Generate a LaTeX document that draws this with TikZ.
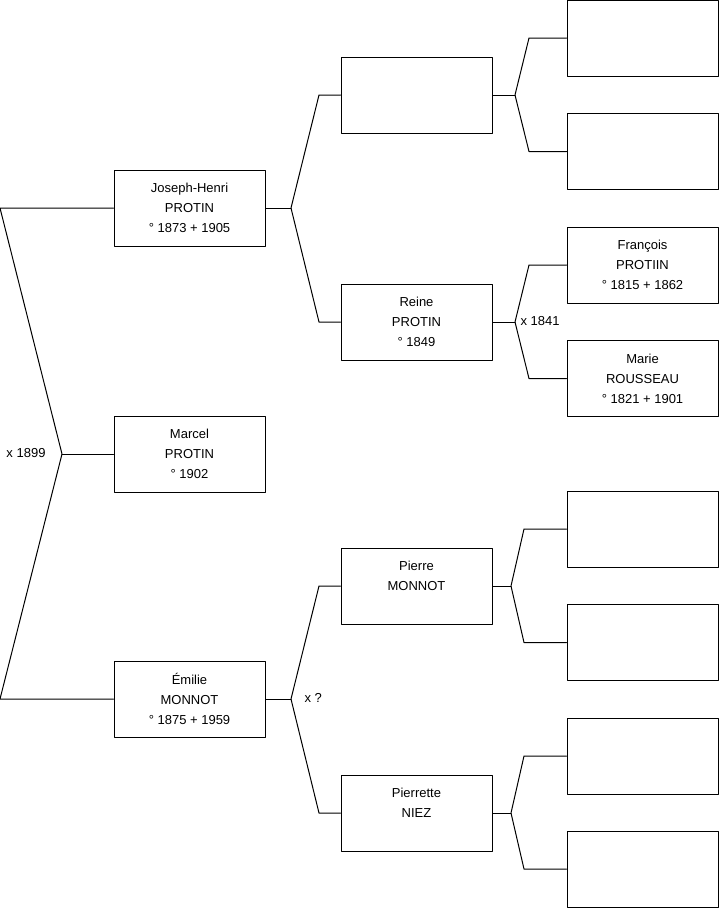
\documentclass[tikz,border=0pt]{standalone}
\usepackage{fontspec}
\setmainfont{Liberation Sans}
\usepackage{tikz}

\begin{document}
\begin{tikzpicture}[x=1pt, y=-1pt, line width=1pt, line cap=round, line join=round,
  box/.style={draw, minimum width=151pt, minimum height=76pt, inner sep=0pt, align=center,
              font=\fontsize{13}{20}\selectfont},
  lbl/.style={inner sep=0pt, font=\fontsize{13}{16}\selectfont}]

  %% ════ 第一代（本人 + 父母）════
  \node[box] (jh)  at (189.5,208) {Joseph-Henri\\PROTIN\\° 1873 + 1905};
  \node[box] (mar) at (189.5,454) {Marcel\\PROTIN\\° 1902};
  \node[box] (emi) at (189.5,699) {Émilie\\MONNOT\\° 1875 + 1959};

  %% ════ 第二代：祖父母 ════
  \node[box] (gp1) at (416.5, 95) {};
  \node[box] (rei) at (416.5,322) {Reine\\PROTIN\\° 1849};
  \node[box] (pie) at (416.5,586) {Pierre\\MONNOT\\\mbox{}};
  \node[box] (pit) at (416.5,813) {Pierrette\\NIEZ\\\mbox{}};

  %% ════ 第三代：曾祖父母（多数空着）════
  \node[box] (ggp1) at (642.5, 38)  {};
  \node[box] (ggp2) at (642.5,151.5) {};
  \node[box] (fra)  at (642.5,265) {François\\PROTIIN\\° 1815 + 1862};
  \node[box] (mai)  at (642.5,378.5) {Marie\\ROUSSEAU\\° 1821 + 1901};
  \node[box] (ggp5) at (642.5,529) {};
  \node[box] (ggp6) at (642.5,642.5) {};
  \node[box] (ggp7) at (642.5,756) {};
  \node[box] (ggp8) at (642.5,869) {};

  %% ════ 分叉点 ════
  \coordinate (m)   at (62,454);
  \coordinate (mt)  at (0,208);
  \coordinate (mb)  at (0,699);
  \coordinate (f1)  at (291,208);
  \coordinate (f1t) at (319,95);
  \coordinate (f1b) at (319,322);
  \coordinate (f2)  at (291,699);
  \coordinate (f2t) at (319,586);
  \coordinate (f2b) at (319,813);
  \coordinate (fa)  at (515,95);
  \coordinate (fat) at (529,38);
  \coordinate (fab) at (529,151.5);
  \coordinate (fr)  at (515,322);
  \coordinate (frt) at (529,265);
  \coordinate (frb) at (529,378.5);
  \coordinate (fp)  at (511,586);
  \coordinate (fpt) at (524,529);
  \coordinate (fpb) at (524,642.5);
  \coordinate (fq)  at (511,813);
  \coordinate (fqt) at (524,756);
  \coordinate (fqb) at (524,869);

  %% ════ 连线 ════
  \draw (jh.west) -- (mt) -- (m) -- (mb) -- (emi.west);
  \draw (m) -- (mar.west);
  \draw (jh.east) -- (f1);
  \draw (gp1.west) -- (f1t) -- (f1) -- (f1b) -- (rei.west);
  \draw (emi.east) -- (f2);
  \draw (pie.west) -- (f2t) -- (f2) -- (f2b) -- (pit.west);
  \draw (gp1.east) -- (fa);
  \draw (ggp1.west) -- (fat) -- (fa) -- (fab) -- (ggp2.west);
  \draw (rei.east) -- (fr);
  \draw (fra.west) -- (frt) -- (fr) -- (frb) -- (mai.west);
  \draw (pie.east) -- (fp);
  \draw (ggp5.west) -- (fpt) -- (fp) -- (fpb) -- (ggp6.west);
  \draw (pit.east) -- (fq);
  \draw (ggp7.west) -- (fqt) -- (fq) -- (fqb) -- (ggp8.west);

  %% ════ 婚姻标注 ════
  \node[lbl, anchor=east] (x1) at (46,453) {x 1899};
  \node[lbl, anchor=west] (x2) at (520,321) {x 1841};
  \node[lbl, anchor=west] (x3) at (304,698) {x ?};

  % 钉死画布
  \pgfresetboundingbox
  \path[use as bounding box] (0,0) rectangle (719,908);
\end{tikzpicture}
\end{document}
